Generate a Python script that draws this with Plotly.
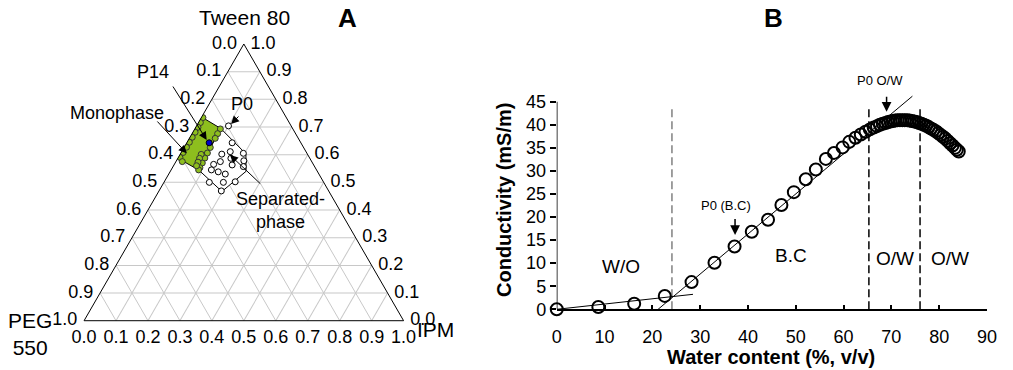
import plotly.graph_objects as go

FONT = "Liberation Sans, Arial, sans-serif"
GREEN = "#8DBE1E"

# ---------------- Panel A: ternary data (a = Tween 80, c = IPM, b = PEG 550) ----------------
mono_poly_a = [0.736, 0.695, 0.545, 0.587, 0.736]
mono_poly_c = [0.000, 0.080, 0.086, 0.000, 0.000]

sep_poly_a = [0.695, 0.603, 0.540, 0.467, 0.545]
sep_poly_c = [0.080, 0.205, 0.237, 0.198, 0.086]

mono_pts_a = [0.734, 0.716, 0.699, 0.681, 0.663, 0.645, 0.627, 0.608, 0.590,
              0.693, 0.676, 0.659, 0.626, 0.606, 0.588, 0.570, 0.553, 0.545,
              0.601, 0.587, 0.573, 0.560, 0.575]
mono_pts_c = [0.005, 0.006, 0.007, 0.007, 0.007, 0.007, 0.007, 0.006, 0.005,
              0.080, 0.080, 0.081, 0.082, 0.083, 0.084, 0.085, 0.086, 0.086,
              0.066, 0.068, 0.070, 0.072, 0.020]

sep_pts_a = [0.643, 0.605, 0.578, 0.557, 0.602, 0.611, 0.587, 0.575, 0.565,
             0.563, 0.545, 0.538, 0.530, 0.500, 0.502, 0.500, 0.469]
sep_pts_c = [0.142, 0.196, 0.211, 0.220, 0.130, 0.152, 0.166, 0.139, 0.123,
             0.182, 0.126, 0.151, 0.177, 0.186, 0.222, 0.142, 0.195]

p0_a, p0_c = [0.704], [0.100]
p14_a, p14_c = [0.643], [0.070]

tern_ticks = [0.0, 0.1, 0.2, 0.3, 0.4, 0.5, 0.6, 0.7, 0.8, 0.9, 1.0]

# ---------------- Panel B: conductivity data ----------------
water = [0, 8.7, 16.2, 22.6, 28.2, 33.0, 37.2, 40.8, 44.2, 47.0, 49.6, 52.1, 54.2,
         56.3, 58.0, 59.8, 61.2, 62.5, 63.6, 64.6, 65.5, 66.3, 67.0, 67.6, 68.2,
         68.8, 69.3, 69.8, 70.3, 70.8, 71.3, 71.8, 72.3, 72.8, 73.3, 73.8, 74.3,
         74.8, 75.3, 75.8, 76.3, 76.8, 77.3, 77.8, 78.3, 78.8, 79.3, 79.8, 80.3,
         80.8, 81.3, 81.8, 82.3, 82.8, 83.3, 83.7, 84.1]
cond = [0, 0.5, 1.2, 2.9, 5.9, 10.1, 13.6, 16.8, 19.4, 22.6, 25.4, 28.2, 30.3,
        32.6, 33.9, 35.1, 36.3, 37.2, 37.9, 38.5, 39.0, 39.4, 39.7, 40.0, 40.2,
        40.4, 40.6, 40.7, 40.8, 40.9, 41.0, 41.0, 41.0, 41.0, 41.0, 40.9, 40.8,
        40.7, 40.6, 40.4, 40.2, 40.0, 39.8, 39.5, 39.2, 38.9, 38.6, 38.2, 37.8,
        37.4, 37.0, 36.5, 36.0, 35.5, 35.0, 34.6, 34.2]

wo_fit_x, wo_fit_y = [0, 28.5], [0, 3.25]
bc_fit_x, bc_fit_y = [21.2, 74.4], [0, 46.2]
boundaries = [24.1, 65.3, 76.0]
boundary_colors = ["#808080", "black", "black"]
boundary_top = 43.7

regions = ["W/O", "B.C", "O/W", "O/W"]
region_x = [13.5, 49.0, 70.7, 82.2]
region_y = [9.2, 11.6, 11.1, 11.1]

x_ticks = [0, 10, 20, 30, 40, 50, 60, 70, 80, 90]
y_ticks = [0, 5, 10, 15, 20, 25, 30, 35, 40, 45]


def bvals(a, c):
    return [round(1 - ai - ci, 4) for ai, ci in zip(a, c)]


fig = go.Figure()

# separated phase region outline
fig.add_trace(go.Scatterternary(
    a=sep_poly_a + sep_poly_a[:1], b=bvals(sep_poly_a + sep_poly_a[:1], sep_poly_c + sep_poly_c[:1]),
    c=sep_poly_c + sep_poly_c[:1], mode="lines", line=dict(color="black", width=1),
    fill="toself", fillcolor="white", hoverinfo="skip"))
# monophase region
fig.add_trace(go.Scatterternary(
    a=mono_poly_a, b=bvals(mono_poly_a, mono_poly_c), c=mono_poly_c, mode="lines",
    line=dict(color="black", width=1), fill="toself", fillcolor=GREEN, hoverinfo="skip"))
fig.add_trace(go.Scatterternary(
    a=mono_pts_a, b=bvals(mono_pts_a, mono_pts_c), c=mono_pts_c, mode="markers",
    marker=dict(size=6, color=GREEN, line=dict(color="#333333", width=1))))
fig.add_trace(go.Scatterternary(
    a=sep_pts_a, b=bvals(sep_pts_a, sep_pts_c), c=sep_pts_c, mode="markers",
    marker=dict(size=6, color="white", line=dict(color="black", width=1))))
fig.add_trace(go.Scatterternary(
    a=p0_a, b=bvals(p0_a, p0_c), c=p0_c, mode="markers",
    marker=dict(size=6, color="white", line=dict(color="black", width=1))))
fig.add_trace(go.Scatterternary(
    a=p14_a, b=bvals(p14_a, p14_c), c=p14_c, mode="markers",
    marker=dict(size=6, color="#0000CC", line=dict(color="black", width=1))))

# ---------------- Panel B traces ----------------
for xb, col in zip(boundaries, boundary_colors):
    fig.add_trace(go.Scatter(x=[xb, xb], y=[0, boundary_top], mode="lines",
                             line=dict(color=col, width=1.5, dash="8px,4px"),
                             xaxis="x", yaxis="y", hoverinfo="skip"))
fig.add_trace(go.Scatter(x=wo_fit_x, y=wo_fit_y, mode="lines",
                         line=dict(color="black", width=1), xaxis="x", yaxis="y"))
fig.add_trace(go.Scatter(x=bc_fit_x, y=bc_fit_y, mode="lines",
                         line=dict(color="black", width=1), xaxis="x", yaxis="y"))
fig.add_trace(go.Scatter(x=water, y=cond, mode="markers", cliponaxis=False,
                         marker=dict(symbol="circle-open", size=12, color="black",
                                     line=dict(color="black", width=2)),
                         xaxis="x", yaxis="y"))

W, H = 1013, 370


def px(x):
    return x / W


def py(y):
    return 1 - y / H


def ptext(text, x, y, size, **kw):
    return dict(x=px(x), y=py(y), xref="paper", yref="paper", text=text,
                xanchor="center", yanchor="middle", showarrow=False,
                font=dict(size=size, color="black"), **kw)


ann = []
ann.append(ptext("<b>A</b>", 347, 18, 26))
ann.append(ptext("<b>B</b>", 773, 18, 26))
ann.append(ptext("Tween 80", 244, 18, 21))
ann.append(ptext("PEG<br>550", 30, 334, 21, align="center"))
ann.append(ptext("IPM", 435, 329, 21))
for txt, (tx, ty) in [("P14", (153, 72)), ("Monophase", (117, 113)), ("P0", (242, 104)),
                      ("Separated-<br>phase", (280, 211))]:
    ann.append(ptext(txt, tx, ty, 18, align="center"))
# ternary arrows (head, tail) in pixels
for (hx, hy), (tx, ty) in [((206.7, 140), (172, 85)), ((186.7, 153.3), (156, 120)),
                           ((231, 124), (240, 115)), ((230, 155), (261.7, 185))]:
    ann.append(dict(x=px(hx), y=py(hy), xref="paper", yref="paper", text="",
                    showarrow=True, ax=tx - hx, ay=ty - hy, axref="pixel", ayref="pixel",
                    arrowhead=2, arrowsize=1.6, arrowwidth=1, arrowcolor="black"))
# panel B region labels
for t, rx, ry in zip(regions, region_x, region_y):
    ann.append(dict(x=rx, y=ry, xref="x", yref="y", text=t, showarrow=False,
                    xanchor="center", yanchor="middle", font=dict(size=19, color="black")))
ann.append(dict(x=35.4, y=22.6, xref="x", yref="y", text="P0 (B.C)", showarrow=False,
                xanchor="center", yanchor="middle", font=dict(size=13, color="black")))
ann.append(dict(x=37.3, y=16.1, xref="x", yref="y", ax=37.3, ay=19.9, axref="x", ayref="y",
                text="", showarrow=True, arrowhead=2, arrowsize=1.3, arrowwidth=1.5,
                arrowcolor="black"))
ann.append(ptext("P0 O/W", 880, 80, 13))
ann.append(dict(x=69.0, y=42.8, xref="x", yref="y", ax=69.0, ay=46.4, axref="x", ayref="y",
                text="", showarrow=True, arrowhead=2, arrowsize=1.3, arrowwidth=1.5,
                arrowcolor="black"))
ann.append(ptext("<b>Conductivity (mS/m)</b>", 504, 200, 20, textangle=-90))
ann.append(ptext("<b>Water content (%, v/v)</b>", 771, 357, 20))

tern_axis = dict(tickvals=tern_ticks, ticks="", showgrid=True, gridcolor="#C8C8C8",
                 gridwidth=1, linecolor="black", linewidth=1, showline=True,
                 tickfont=dict(size=18, color="black"), title=dict(text=""))

fig.update_layout(
    width=W, height=H, showlegend=False,
    paper_bgcolor="white", plot_bgcolor="white",
    margin=dict(l=0, r=0, t=0, b=0, autoexpand=False),
    font=dict(family=FONT, color="black"),
    ternary=dict(
        domain=dict(x=[0.0816, 0.3998], y=[0.1332, 0.8811]),
        bgcolor="white", sum=1,
        aaxis=dict(tern_axis, ticktext=[f"{1 - v:.1f}\u2005" for v in tern_ticks]),
        baxis=dict(tern_axis, ticktext=[f"{1 - v:.1f}" for v in tern_ticks]),
        caxis=dict(tern_axis, ticktext=[f"\u2005{1 - v:.1f}" for v in tern_ticks]),
    ),
    xaxis=dict(domain=[0.5496, 0.9743], range=[0, 90], tickvals=x_ticks,
               ticks="inside", ticklen=5, tickwidth=1.5, tickcolor="black",
               showline=True, linecolor="black", linewidth=1.5, showgrid=False,
               zeroline=False, tickfont=dict(size=18), ticklabelstandoff=10),
    yaxis=dict(domain=[0.16405, 0.7438], range=[0, 46.5], tickvals=y_ticks,
               ticks="outside", ticklen=6, tickwidth=1.5, tickcolor="black",
               showline=False, showgrid=False, zeroline=False,
               tickfont=dict(size=18)),
    shapes=[dict(type="line", xref="x", yref="y", x0=0, x1=0, y0=0, y1=45,
                 line=dict(color="black", width=1.5))],
    annotations=ann,
)

fig.write_html("out.html", config={"displayModeBar": False},
               post_script="document.body.style.margin='0px';")
